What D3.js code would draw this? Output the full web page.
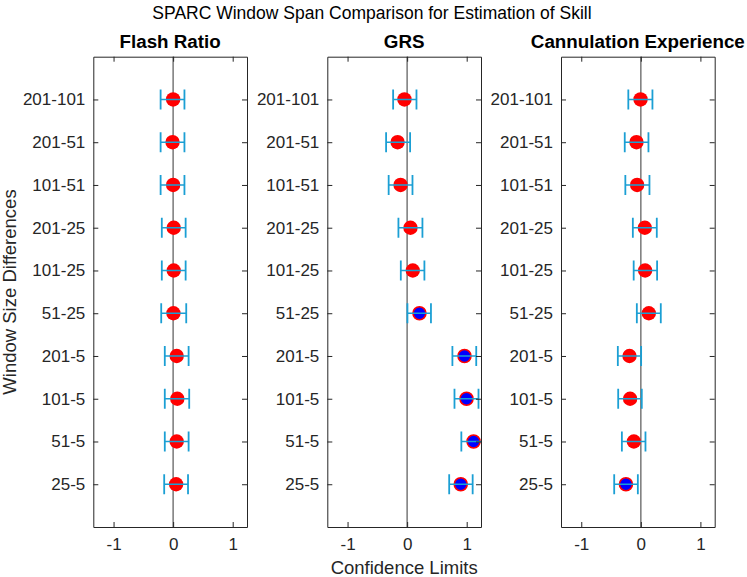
<!DOCTYPE html>
<html>
<head>
<meta charset="utf-8">
<script src="https://cdn.jsdelivr.net/npm/d3@7"></script>
<style>
  html, body { margin: 0; padding: 0; background: #fff; }
  svg { display: block; font-family: "Liberation Sans", Arial, sans-serif; }
</style>
</head>
<body>
<script>
const categories = ["201-101","201-51","101-51","201-25","101-25","51-25","201-5","101-5","51-5","25-5"];
const panelTitles = ["Flash Ratio", "GRS", "Cannulation Experience"];
const xTicks = [-1, 0, 1];

const flashMean = [0.00, -0.01, 0.00, 0.01, 0.01, 0.005, 0.06, 0.07, 0.06, 0.05];
const flashLow  = [-0.21, -0.21, -0.21, -0.19, -0.19, -0.20, -0.14, -0.14, -0.14, -0.15];
const flashHigh = [0.19, 0.19, 0.19, 0.21, 0.21, 0.22, 0.26, 0.27, 0.26, 0.25];

const grsMean = [-0.045, -0.16, -0.11, 0.056, 0.095, 0.207, 0.963, 0.997, 1.115, 0.90];
const grsLow  = [-0.235, -0.353, -0.31, -0.146, -0.106, 0.005, 0.76, 0.795, 0.91, 0.706];
const grsHigh = [0.157, 0.05, 0.09, 0.257, 0.29, 0.40, 1.16, 1.198, 1.32, 1.10];

const cannMean = [-0.005, -0.073, -0.062, 0.067, 0.072, 0.134, -0.19, -0.18, -0.117, -0.25];
const cannLow  = [-0.21, -0.27, -0.26, -0.134, -0.12, -0.067, -0.386, -0.38, -0.318, -0.447];
const cannHigh = [0.195, 0.128, 0.145, 0.268, 0.273, 0.335, 0.005, 0.016, 0.078, -0.05];

(function () {
const panels = [
  { title: panelTitles[0], mean: flashMean, low: flashLow, high: flashHigh },
  { title: panelTitles[1], mean: grsMean, low: grsLow, high: grsHigh },
  { title: panelTitles[2], mean: cannMean, low: cannLow, high: cannHigh }
];

const W = 747, H = 577;
const plotTop = 56.7, plotBottom = 527;
const panelLefts = [93.3, 327.3, 561];
const panelW = 153.7;
const axisColor = "#262626";
const errColor = "#1b9fd4";

const svg = d3.select("body").append("svg").attr("width", W).attr("height", H);

svg.append("text")
  .attr("x", 372).attr("y", 19)
  .attr("text-anchor", "middle")
  .attr("font-size", "17.5px")
  .attr("fill", "#000")
  .text("SPARC Window Span Comparison for Estimation of Skill");

svg.append("text")
  .attr("transform", "translate(16,292) rotate(-90)")
  .attr("text-anchor", "middle")
  .attr("font-size", "18.5px")
  .attr("fill", "#262626")
  .text("Window Size Differences");

svg.append("text")
  .attr("x", panelLefts[1] + panelW / 2).attr("y", 574)
  .attr("text-anchor", "middle")
  .attr("font-size", "18.5px")
  .attr("fill", "#262626")
  .text("Confidence Limits");

const y = d3.scaleLinear().domain([0, categories.length + 1]).range([plotTop, plotBottom]);
const fmt = d => String(d);

panels.forEach((p, pi) => {
  const left = panelLefts[pi];
  const x = d3.scaleLinear().domain([-1.34, 1.24]).range([left, left + panelW]);
  const g = svg.append("g");

  const clipId = "clip" + pi;
  svg.append("clipPath").attr("id", clipId)
    .append("rect").attr("x", left).attr("y", plotTop).attr("width", panelW).attr("height", plotBottom - plotTop);

  g.append("line")
    .attr("x1", x(0)).attr("x2", x(0)).attr("y1", plotTop).attr("y2", plotBottom)
    .attr("stroke", "#808080").attr("stroke-width", 1.6);

  const rows = categories.map((c, i) => ({
    c, pos: i + 1, m: p.mean[i], lo: p.low[i], hi: p.high[i],
    sig: p.low[i] > 0 || p.high[i] < 0
  }));

  const data = g.append("g").attr("clip-path", `url(#${clipId})`);

  data.selectAll("circle").data(rows).join("circle")
    .attr("cx", d => x(d.m)).attr("cy", d => y(d.pos))
    .attr("r", d => d.sig ? 6.5 : 7.2)
    .attr("fill", d => d.sig ? "#0000ff" : "#ff0000")
    .attr("stroke", "#ff0000")
    .attr("stroke-width", d => d.sig ? 1.6 : 0);

  data.selectAll("line.eb").data(rows).join("line").attr("class", "eb")
    .attr("x1", d => x(d.lo)).attr("x2", d => x(d.hi))
    .attr("y1", d => y(d.pos)).attr("y2", d => y(d.pos))
    .attr("stroke", errColor).attr("stroke-width", 1.5);

  ["lo", "hi"].forEach(k => {
    data.selectAll("line.cap" + k).data(rows).join("line").attr("class", "cap" + k)
      .attr("x1", d => x(d[k])).attr("x2", d => x(d[k]))
      .attr("y1", d => y(d.pos) - 10).attr("y2", d => y(d.pos) + 10)
      .attr("stroke", errColor).attr("stroke-width", 1.8);
  });

  const axB = d3.axisBottom(x).tickValues(xTicks).tickFormat(fmt).tickSizeInner(-5).tickSizeOuter(0).tickPadding(11);
  const axT = d3.axisTop(x).tickValues(xTicks).tickFormat("").tickSizeInner(-5).tickSizeOuter(0);
  const axL = d3.axisLeft(y).tickValues(d3.range(1, categories.length + 1)).tickFormat(d => categories[d - 1]).tickSizeInner(-5).tickSizeOuter(0).tickPadding(10);
  const axR = d3.axisRight(y).tickValues(d3.range(1, categories.length + 1)).tickFormat("").tickSizeInner(-5).tickSizeOuter(0);

  const gb = g.append("g").attr("transform", `translate(0,${plotBottom})`).call(axB);
  const gt = g.append("g").attr("transform", `translate(0,${plotTop})`).call(axT);
  const gl = g.append("g").attr("transform", `translate(${left},0)`).call(axL);
  const gr = g.append("g").attr("transform", `translate(${left + panelW},0)`).call(axR);

  [gb, gt, gl, gr].forEach(a => {
    a.selectAll("path.domain").attr("stroke", axisColor).attr("stroke-width", 1);
    a.selectAll(".tick line").attr("stroke", axisColor).attr("stroke-width", 1);
    a.selectAll(".tick text").attr("fill", axisColor).attr("font-size", "17px")
      .attr("font-family", '"Liberation Sans", Arial, sans-serif');
  });
  gb.selectAll(".tick text").attr("dy", "0.71em").attr("y", 11);
  gl.selectAll(".tick text").attr("x", -8);

  svg.append("text")
    .attr("x", left + panelW / 2).attr("y", 48)
    .attr("text-anchor", "middle")
    .attr("font-size", "18.8px")
    .attr("font-weight", "bold")
    .attr("fill", "#000")
    .text(p.title);
});
})();
</script>
</body>
</html>
